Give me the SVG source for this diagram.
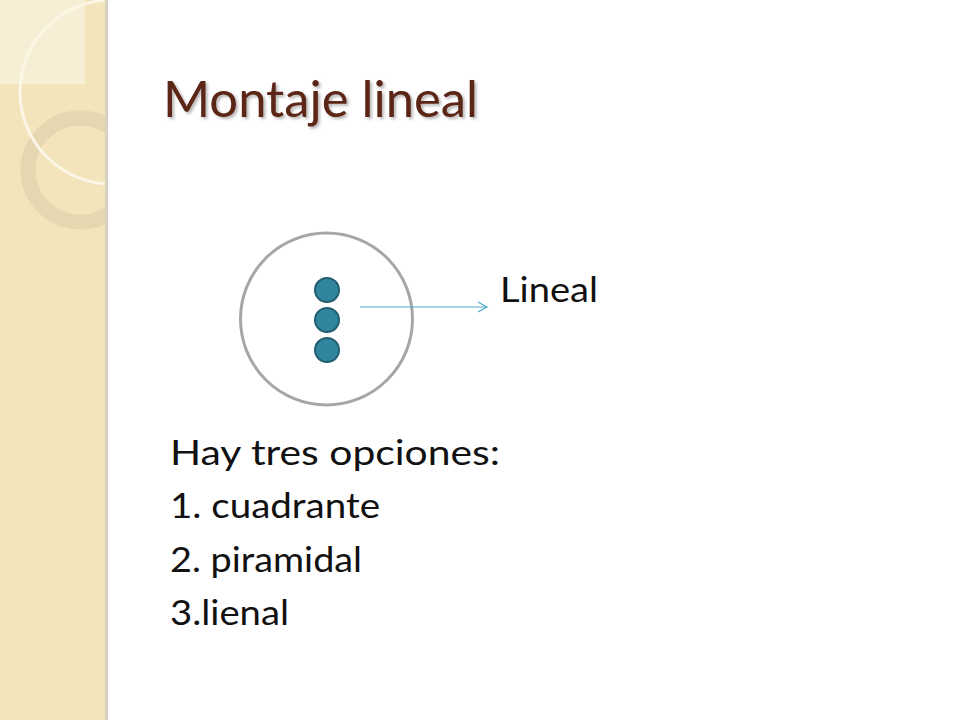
<svg xmlns="http://www.w3.org/2000/svg" width="960" height="720" viewBox="0 0 960 720">
<defs>
<style>
.t{font-family:Lato,"Open Sans","Liberation Sans",sans-serif;fill:#111;font-size:34px}
.title{font-family:Lato,"Open Sans","Liberation Sans",sans-serif;fill:#5b2518;font-size:50px}
.dot{fill:#31859c;stroke:#215f70;stroke-width:2}
</style>
<filter id="sh" x="-5%" y="-20%" width="110%" height="150%">
<feDropShadow dx="2" dy="2" stdDeviation="1.5" flood-color="#000" flood-opacity="0.3"/>
</filter>
<marker id="ah" markerWidth="12" markerHeight="12" refX="10" refY="6" orient="auto" markerUnits="userSpaceOnUse">
<path d="M1,1 L10,6 L1,11" fill="none" stroke="#4bacc6" stroke-width="1.2"/>
</marker>
<clipPath id="band"><rect x="0" y="0" width="105" height="720"/></clipPath>
</defs>
<rect width="960" height="720" fill="#ffffff"/>
<g id="background-band">
<rect x="0" y="0" width="105" height="720" fill="#f4e4bc"/>
<rect x="105" y="0" width="3" height="720" fill="#d9d1bf"/>
<g clip-path="url(#band)">
<rect x="0" y="0" width="85" height="84" fill="#f7eed6"/>
<circle cx="80" cy="170" r="52" fill="none" stroke="#e6d7b0" stroke-width="15"/>
<circle cx="112" cy="92" r="92" fill="none" stroke="#fbf6e6" stroke-width="3"/>
</g>
</g>
<g id="title">
<text class="title" x="163" y="117" textLength="315" lengthAdjust="spacingAndGlyphs" filter="url(#sh)">Montaje lineal</text>
</g>
<g id="container">
<circle cx="326.5" cy="319" r="86" fill="#fff" stroke="#a6a6a6" stroke-width="3"/>
</g>
<g id="dots">
<circle class="dot" cx="327" cy="290" r="12"/>
<circle class="dot" cx="327" cy="320" r="12"/>
<circle class="dot" cx="327" cy="350" r="12"/>
</g>
<g id="connectors">
<line x1="360" y1="307" x2="487" y2="307" stroke="#4bacc6" stroke-width="1.2" marker-end="url(#ah)"/>
</g>
<g id="label-lineal">
<text class="t" x="500" y="302" textLength="98" lengthAdjust="spacingAndGlyphs">Lineal</text>
</g>
<g id="list">
<text class="t" x="170" y="465" textLength="330" lengthAdjust="spacingAndGlyphs">Hay tres opciones:</text>
<text class="t" x="170" y="518" textLength="210" lengthAdjust="spacingAndGlyphs">1. cuadrante</text>
<text class="t" x="170" y="572" textLength="192" lengthAdjust="spacingAndGlyphs">2. piramidal</text>
<text class="t" x="170" y="625" textLength="119" lengthAdjust="spacingAndGlyphs">3.lienal</text>
</g>
</svg>
